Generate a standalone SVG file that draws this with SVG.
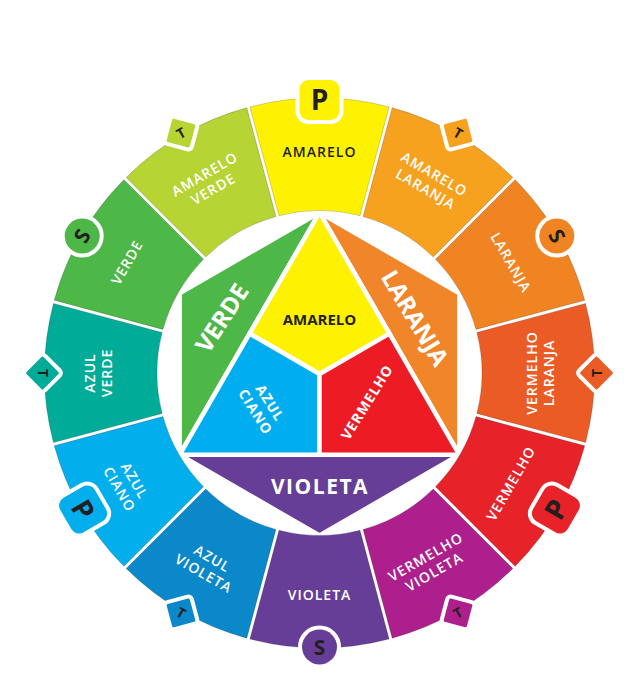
<svg xmlns="http://www.w3.org/2000/svg" xmlns:xlink="http://www.w3.org/1999/xlink" width="629" height="682" viewBox="0 0 629 682">
<style>
.f{font-family:"Open Sans","Liberation Sans",sans-serif;font-weight:700;text-anchor:middle}
.rt{font-size:14px;font-weight:600;letter-spacing:1px;fill:#fff}
.dk{fill:#231f20}
.wt{fill:#fff}
.seg{stroke:#000;stroke-opacity:.22;stroke-width:.8}
.pc{stroke:#fff;stroke-width:4.5;stroke-linejoin:miter}
.bd{stroke:#fff;stroke-width:8;paint-order:stroke}
.bp{font-size:28px}
.bs{font-size:21px}
.bt{font-size:14px}
</style>
<defs>
<path id="seg" d="M249.88,106.96 A275,275 0 0 1 389.12,106.96 L360.01,215.63 A162.5,162.5 0 0 0 278.99,215.63 Z"/>
</defs>
<rect width="629" height="682" fill="#fff"/>

<!-- inner hexagon pieces -->
<g id="in-verde"><polygon class="pc" fill="#4db748" points="319.5,212.5 179.64,454.75 179.64,293.25"/>
<text class="f wt" font-size="24" transform="translate(222,318) rotate(-57)" y="8.6">VERDE</text></g>
<g id="in-laranja"><polygon class="pc" fill="#f0852a" points="319.5,212.5 459.36,293.25 459.36,454.75"/>
<text class="f wt" font-size="24" transform="translate(415,318) rotate(59)" y="8.6">LARANJA</text></g>
<g id="in-violeta"><polygon class="pc" fill="#673e97" points="179.64,454.75 459.36,454.75 319.5,535.5"/>
<text class="f wt" font-size="21" letter-spacing="1.5" x="320" y="493.5">VIOLETA</text></g>
<g id="in-amarelo"><polygon class="pc" fill="#fff200" points="319.5,212.5 389.43,333.63 319.5,374 249.57,333.63"/>
<text class="f dk" font-size="15" font-weight="600" x="319.5" y="324.5">AMARELO</text></g>
<g id="in-azul-ciano"><polygon class="pc" fill="#00aeef" points="249.57,333.63 319.5,374 319.5,454.75 179.64,454.75"/>
<text class="f wt" font-size="14" font-weight="600" letter-spacing="1" transform="translate(262.5,407.5) rotate(58)"><tspan x="0" y="-3.8">AZUL</tspan><tspan x="0" y="13.2">CIANO</tspan></text></g>
<g id="in-vermelho"><polygon class="pc" fill="#ed1c24" points="389.43,333.63 459.36,454.75 319.5,454.75 319.5,374"/>
<text class="f wt" font-size="14" font-weight="600" letter-spacing="1" transform="translate(367,402) rotate(-58)" y="5">VERMELHO</text></g>

<!-- ring segments -->
<g id="amarelo"><use xlink:href="#seg" class="seg" fill="#fff200"/>
<text class="f rt dk" transform="translate(319.5,152)" y="5">AMARELO</text>
<g transform="translate(319.5,100)"><rect class="bd" x="-20" y="-20" width="40" height="40" rx="9" fill="#fff200"/><text class="f dk bp" y="10">P</text></g></g>

<g id="amarelo-laranja"><use xlink:href="#seg" class="seg" fill="#f7a21f" transform="rotate(30 319.5 373)"/>
<text class="f rt" transform="translate(430,181.6) rotate(30)"><tspan x="0" y="-3.6">AMARELO</tspan><tspan x="0" y="13.6">LARANJA</tspan></text>
<g transform="translate(458,133.1)"><rect class="bd" x="-12" y="-12" width="24" height="24" rx="1.5" fill="#f7a21f" transform="rotate(75)"/><text class="f dk bt" y="5" transform="rotate(30)">T</text></g></g>

<g id="laranja"><use xlink:href="#seg" class="seg" fill="#f08423" transform="rotate(60 319.5 373)"/>
<text class="f rt" transform="translate(510.9,262.5) rotate(60)" y="5">LARANJA</text>
<g transform="translate(556.8,236)"><circle class="bd" r="17.5" fill="#f08423"/><text class="f dk bs" y="7.5" transform="rotate(60)">S</text></g></g>

<g id="vermelho-laranja"><use xlink:href="#seg" class="seg" fill="#ea5b26" transform="rotate(90 319.5 373)"/>
<text class="f rt" transform="translate(540.5,373) rotate(-90)"><tspan x="0" y="-3.6">VERMELHO</tspan><tspan x="0" y="13.6">LARANJA</tspan></text>
<g transform="translate(596.5,373)"><rect class="bd" x="-12" y="-12" width="24" height="24" rx="1.5" fill="#ea5b26" transform="rotate(135)"/><text class="f dk bt" y="5" transform="rotate(-90)">T</text></g></g>

<g id="vermelho"><use xlink:href="#seg" class="seg" fill="#e82229" transform="rotate(120 319.5 373)"/>
<text class="f rt" transform="translate(510.9,483.5) rotate(-60)" y="5">VERMELHO</text>
<g transform="translate(555.9,509.5)"><rect class="bd" x="-20" y="-20" width="40" height="40" rx="9" fill="#e82229" transform="rotate(120)"/><text class="f dk bp" y="10" transform="rotate(-60)">P</text></g></g>

<g id="vermelho-violeta"><use xlink:href="#seg" class="seg" fill="#ad1f8d" transform="rotate(150 319.5 373)"/>
<text class="f rt" transform="translate(430,564.4) rotate(-30)"><tspan x="0" y="-3.6">VERMELHO</tspan><tspan x="0" y="13.6">VIOLETA</tspan></text>
<g transform="translate(458,612.9)"><rect class="bd" x="-12" y="-12" width="24" height="24" rx="1.5" fill="#ad1f8d" transform="rotate(195)"/><text class="f dk bt" y="5" transform="rotate(-30)">T</text></g></g>

<g id="violeta"><use xlink:href="#seg" class="seg" fill="#673e97" transform="rotate(180 319.5 373)"/>
<text class="f rt" transform="translate(319.5,595)" y="5">VIOLETA</text>
<g transform="translate(319.5,647)"><circle class="bd" r="17.5" fill="#673e97"/><text class="f dk bs" y="7.5">S</text></g></g>

<g id="azul-violeta"><use xlink:href="#seg" class="seg" fill="#0a88ca" transform="rotate(210 319.5 373)"/>
<text class="f rt" transform="translate(208,566) rotate(30)"><tspan x="0" y="-3.6">AZUL</tspan><tspan x="0" y="13.6">VIOLETA</tspan></text>
<g transform="translate(181,612.9)"><rect class="bd" x="-12" y="-12" width="24" height="24" rx="1.5" fill="#0a88ca" transform="rotate(255)"/><text class="f dk bt" y="5" transform="rotate(30)">T</text></g></g>

<g id="azul-ciano"><use xlink:href="#seg" class="seg" fill="#02aeec" transform="rotate(240 319.5 373)"/>
<text class="f rt" transform="translate(127,485) rotate(60)"><tspan x="0" y="-3.6">AZUL</tspan><tspan x="0" y="13.6">CIANO</tspan></text>
<g transform="translate(83.1,509.5)"><rect class="bd" x="-20" y="-20" width="40" height="40" rx="9" fill="#02aeec" transform="rotate(240)"/><text class="f dk bp" y="10" transform="rotate(60)">P</text></g></g>

<g id="azul-verde"><use xlink:href="#seg" class="seg" fill="#00ab98" transform="rotate(270 319.5 373)"/>
<text class="f rt" transform="translate(98.5,373) rotate(-90)"><tspan x="0" y="-3.6">AZUL</tspan><tspan x="0" y="13.6">VERDE</tspan></text>
<g transform="translate(42.5,373)"><rect class="bd" x="-12" y="-12" width="24" height="24" rx="1.5" fill="#00ab98" transform="rotate(315)"/><text class="f dk bt" y="5" transform="rotate(90)">T</text></g></g>

<g id="verde"><use xlink:href="#seg" class="seg" fill="#4db748" transform="rotate(300 319.5 373)"/>
<text class="f rt" transform="translate(127,262.5) rotate(-60)" y="5">VERDE</text>
<g transform="translate(82.2,236)"><circle class="bd" r="17.5" fill="#4db748"/><text class="f dk bs" y="7.5" transform="rotate(-60)">S</text></g></g>

<g id="amarelo-verde"><use xlink:href="#seg" class="seg" fill="#b6d433" transform="rotate(330 319.5 373)"/>
<text class="f rt" transform="translate(209,181.6) rotate(-30)"><tspan x="0" y="-3.6">AMARELO</tspan><tspan x="0" y="13.6">VERDE</tspan></text>
<g transform="translate(181,133.1)"><rect class="bd" x="-12" y="-12" width="24" height="24" rx="1.5" fill="#b6d433" transform="rotate(375)"/><text class="f dk bt" y="5" transform="rotate(-30)">T</text></g></g>
</svg>
